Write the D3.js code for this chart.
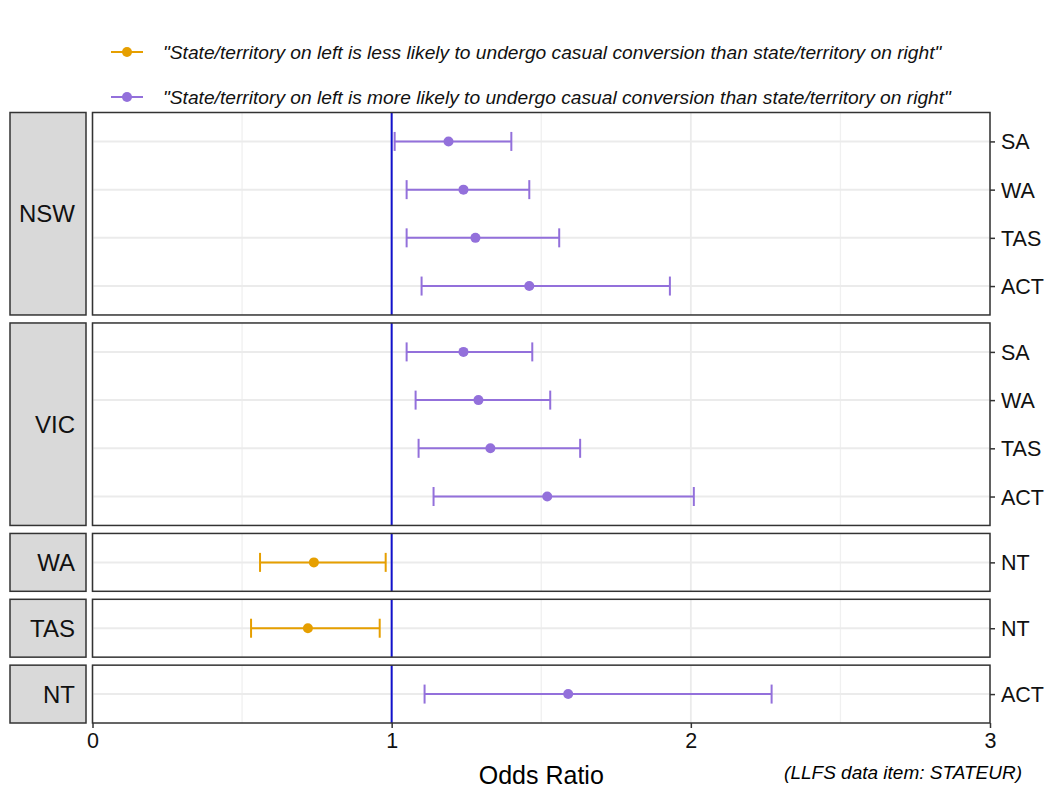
<!DOCTYPE html>
<html>
<head>
<meta charset="utf-8">
<script src="https://cdn.jsdelivr.net/npm/d3@7"></script>
<style>
  html, body { margin: 0; padding: 0; background: #ffffff; }
  svg { display: block; font-family: "Liberation Sans", Arial, sans-serif; }
</style>
</head>
<body>
<svg id="chart" width="1051" height="790"></svg>
<script>
// Pairwise state/territory comparisons: odds ratios with 95% confidence intervals
const panelStates = ["NSW", "VIC", "WA", "TAS", "NT"];
const leftState  = ["NSW", "NSW", "NSW", "NSW", "VIC", "VIC", "VIC", "VIC", "WA", "TAS", "NT"];
const rightState = ["SA", "WA", "TAS", "ACT", "SA", "WA", "TAS", "ACT", "NT", "NT", "ACT"];
const oddsRatio  = [1.19, 1.24, 1.28, 1.46, 1.24, 1.29, 1.33, 1.52, 0.74, 0.72, 1.59];
const lowerCI    = [1.01, 1.05, 1.05, 1.10, 1.05, 1.08, 1.09, 1.14, 0.56, 0.53, 1.11];
const upperCI    = [1.40, 1.46, 1.56, 1.93, 1.47, 1.53, 1.63, 2.01, 0.98, 0.96, 2.27];
const xTicks     = [0, 1, 2, 3];
const legendLabels = [
  "\"State/territory on left is less likely to undergo casual conversion than state/territory on right\"",
  "\"State/territory on left is more likely to undergo casual conversion than state/territory on right\""
];
const xTitle = "Odds Ratio";
const caption = "(LLFS data item: STATEUR)";

const rows = leftState.map((l, i) => ({
  left: l, right: rightState[i], or: oddsRatio[i], lo: lowerCI[i], hi: upperCI[i]
}));

const colLess = "#E69F00";
const colMore = "#9370DB";
const refLine = "#1212CC";
const gridCol = "#ebebeb";
const frameCol = "#333333";

const svg = d3.select("#chart");

// Layout
const plotLeft = 92.5, plotRight = 990;
const stripLeft = 10, stripRight = 86;
const plotTop = 112.5, plotBottom = 723;
const gap = 8;

const x = d3.scaleLinear().domain([0, 3]).range([plotLeft, plotRight]);

// Panel heights proportional to their number of rows (free space)
const panels = panelStates.map(p => ({
  name: p,
  rows: rows.filter(r => r.left === p)
}));
const totalUnits = d3.sum(panels, p => p.rows.length + 0.2);
const unit = (plotBottom - plotTop - gap * (panels.length - 1)) / totalUnits;
let yCursor = plotTop;
panels.forEach(p => {
  p.top = yCursor;
  p.height = unit * (p.rows.length + 0.2);
  p.bottom = p.top + p.height;
  yCursor = p.bottom + gap;
  p.y = d3.scalePoint().domain(p.rows.map(r => r.right)).range([p.top, p.bottom]).padding(0.6);
});

const colorFor = r => (r.or < 1 ? colLess : colMore);

panels.forEach(p => {
  const g = svg.append("g");

  // Panel background
  g.append("rect")
    .attr("x", plotLeft).attr("y", p.top)
    .attr("width", plotRight - plotLeft).attr("height", p.height)
    .attr("fill", "#ffffff");

  // Minor vertical gridlines
  g.selectAll(".minor").data([0.5, 1.5, 2.5]).join("line")
    .attr("x1", d => x(d)).attr("x2", d => x(d))
    .attr("y1", p.top).attr("y2", p.bottom)
    .attr("stroke", "#f0f0f0").attr("stroke-width", 1.3);

  // Major vertical gridlines
  g.selectAll(".major").data(xTicks).join("line")
    .attr("x1", d => x(d)).attr("x2", d => x(d))
    .attr("y1", p.top).attr("y2", p.bottom)
    .attr("stroke", gridCol).attr("stroke-width", 1.8);

  // Horizontal gridlines per comparison
  g.selectAll(".hgrid").data(p.rows).join("line")
    .attr("x1", plotLeft).attr("x2", plotRight)
    .attr("y1", d => p.y(d.right)).attr("y2", d => p.y(d.right))
    .attr("stroke", gridCol).attr("stroke-width", 2);

  // Reference line at OR = 1
  g.append("line")
    .attr("x1", x(1)).attr("x2", x(1))
    .attr("y1", p.top).attr("y2", p.bottom)
    .attr("stroke", refLine).attr("stroke-width", 2);

  // Error bars
  const capHalf = 9.5;
  const eb = g.selectAll(".eb").data(p.rows).join("g");
  eb.append("line")
    .attr("x1", d => x(d.lo)).attr("x2", d => x(d.hi))
    .attr("y1", d => p.y(d.right)).attr("y2", d => p.y(d.right))
    .attr("stroke", colorFor).attr("stroke-width", 2);
  eb.append("line")
    .attr("x1", d => x(d.lo)).attr("x2", d => x(d.lo))
    .attr("y1", d => p.y(d.right) - capHalf).attr("y2", d => p.y(d.right) + capHalf)
    .attr("stroke", colorFor).attr("stroke-width", 2);
  eb.append("line")
    .attr("x1", d => x(d.hi)).attr("x2", d => x(d.hi))
    .attr("y1", d => p.y(d.right) - capHalf).attr("y2", d => p.y(d.right) + capHalf)
    .attr("stroke", colorFor).attr("stroke-width", 2);
  eb.append("circle")
    .attr("cx", d => x(d.or)).attr("cy", d => p.y(d.right))
    .attr("r", 5).attr("fill", colorFor);

  // Panel border
  g.append("rect")
    .attr("x", plotLeft).attr("y", p.top)
    .attr("width", plotRight - plotLeft).attr("height", p.height)
    .attr("fill", "none").attr("stroke", frameCol).attr("stroke-width", 1.5);

  // Strip on the left
  g.append("rect")
    .attr("x", stripLeft).attr("y", p.top)
    .attr("width", stripRight - stripLeft).attr("height", p.height)
    .attr("fill", "#d9d9d9").attr("stroke", frameCol).attr("stroke-width", 1.5);
  g.append("text")
    .attr("x", 75).attr("y", (p.top + p.bottom) / 2)
    .attr("text-anchor", "end").attr("dominant-baseline", "central")
    .attr("font-size", 24).attr("fill", "#111")
    .text(p.name);

  // Right y axis
  const yAxis = d3.axisRight(p.y).tickSize(5).tickPadding(6);
  const ya = g.append("g").attr("transform", `translate(${plotRight},0)`).call(yAxis);
  ya.select(".domain").remove();
  ya.selectAll(".tick line").attr("stroke", frameCol).attr("stroke-width", 1.5);
  ya.selectAll(".tick text")
    .attr("font-size", 21.5).attr("fill", "#111")
    .attr("font-family", "Liberation Sans, Arial, sans-serif")
    .attr("dy", "0.35em");
});

// Bottom x axis
const last = panels[panels.length - 1];
const xAxis = d3.axisBottom(x).tickValues(xTicks).tickFormat(d3.format("d")).tickSize(5).tickPadding(5);
const xa = svg.append("g").attr("transform", `translate(0,${last.bottom})`).call(xAxis);
xa.select(".domain").remove();
xa.selectAll(".tick line").attr("stroke", frameCol).attr("stroke-width", 1.5);
xa.selectAll(".tick text")
  .attr("font-size", 21.5).attr("fill", "#111")
  .attr("font-family", "Liberation Sans, Arial, sans-serif");

// Axis title and caption
svg.append("text")
  .attr("x", (plotLeft + plotRight) / 2).attr("y", 784)
  .attr("text-anchor", "middle")
  .attr("font-size", 25).attr("fill", "#000")
  .text(xTitle);
svg.append("text")
  .attr("x", 1022).attr("y", 779)
  .attr("text-anchor", "end")
  .attr("font-size", 19).attr("font-style", "italic").attr("fill", "#000")
  .text(caption);

// Legend
const legendY = [52, 97];
const legendCols = [colLess, colMore];
legendLabels.forEach((lab, i) => {
  const lg = svg.append("g").attr("transform", `translate(0,${legendY[i]})`);
  lg.append("line").attr("x1", 111).attr("x2", 143).attr("y1", 0).attr("y2", 0)
    .attr("stroke", legendCols[i]).attr("stroke-width", 2);
  lg.append("circle").attr("cx", 127).attr("cy", 0).attr("r", 5).attr("fill", legendCols[i]);
  lg.append("text").attr("x", 163).attr("y", 0)
    .attr("dominant-baseline", "central")
    .attr("font-size", 19.2).attr("font-style", "italic").attr("fill", "#111")
    .text(lab);
});
</script>
</body>
</html>
